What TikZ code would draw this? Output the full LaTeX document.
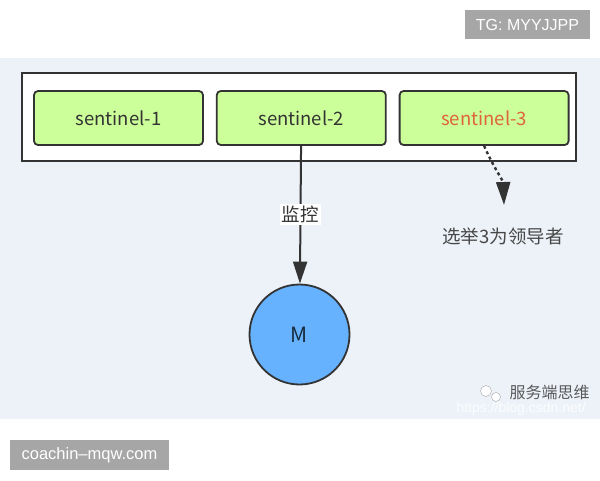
\documentclass[tikz,border=0pt]{standalone}
\usepackage{fontspec}
\setmainfont{Noto Sans CJK SC}
\newfontfamily\tagfont{Liberation Sans}
\usepackage{tikz}
\usetikzlibrary{positioning, shapes.geometric, arrows.meta}
\usepackage{xcolor}
\definecolor{panelbg}{HTML}{EDF2F9}
\definecolor{boxgreen}{HTML}{CCFF99}
\definecolor{edgegray}{HTML}{333333}
\definecolor{masterblue}{HTML}{66B2FF}
\definecolor{leaderred}{HTML}{E0643A}
\definecolor{taggray}{HTML}{A6A6A6}

\begin{document}
\begin{tikzpicture}[
		x=1pt, y=-1pt,
		font=\fontsize{18.5}{21}\selectfont,
		sentinel/.style={
			draw=edgegray,
			line width=1.8pt,
			rounded corners=4pt,
			fill=boxgreen,
			text=edgegray,
			minimum width=169pt,
			minimum height=54pt
		},
		frame/.style={
			draw=edgegray,
			line width=2pt,
			fill=white,
			minimum width=554pt,
			minimum height=88pt
		},
		master/.style={
			circle,
			draw=edgegray,
			line width=1.8pt,
			fill=masterblue,
			text=black!60!masterblue!60!black,
			font=\fontsize{21}{23}\selectfont,
			minimum size=100pt
		},
		tag/.style={
			fill=taggray,
			text=white,
			font=\tagfont\fontsize{16}{18}\selectfont,
			inner sep=0pt
		},
		link/.style={
			draw=edgegray,
			line width=2pt,
			-{Triangle[length=22pt, width=14pt]}
		}
		]
		
		% --- Canvas ---
		\useasboundingbox (0,0) rectangle (600,480);
		\fill[white] (0,0) rectangle (600,480);
		\fill[panelbg] (0,58) rectangle (600,419);
		
		% --- Sentinel group ---
		\node[frame] (group) at (299,117) {};
		\node[sentinel] (s1) at (118.5,118) {sentinel-1};
		\node[sentinel, right=12pt of s1] (s2) {sentinel-2};
		\node[sentinel, right=12pt of s2, text=leaderred] (s3) {sentinel-3};
		
		% --- Master ---
		\node[master] (m) at (299.5,334.5) {M};
		
		% --- Monitoring ---
		\draw[link] (s2) -- (m)
			node[midway, fill=white, inner sep=2pt, text=edgegray,
			font=\fontsize{18.5}{20}\selectfont] (watch) {监控};
		
		% --- Election ---
		\coordinate (tip) at (504,205);
		\draw[link, -{Triangle[length=23pt, width=14pt]},
			line width=2.4pt, dash pattern=on 3pt off 3pt]
			(s3.south) to[out=-66, in=92] (tip);
		\node[text=edgegray!90, font=\fontsize{18.5}{20}\selectfont] (leader) at (503,236) {选举3为领导者};
		
		% --- Watermarks ---
		\node[text=white, opacity=0.8, font=\tagfont\fontsize{14}{16}\selectfont,
			anchor=west] (url) at (453,409) {https://blog.csdn.net/};
		\node[circle, draw=gray!70, fill=white, minimum size=11pt, inner sep=0pt] (wx1) at (486,391) {};
		\node[circle, draw=gray!70, fill=white, minimum size=9pt, inner sep=0pt] (wx2) at (496,397) {};
		\node[text=black!65, font=\fontsize{16}{18}\selectfont, anchor=west] (brand) at (506,392) {服务端思维};
		
		% --- Tags ---
		\node[tag, minimum width=125pt, minimum height=29pt] (tg) at (527.5,24.5) {TG: MYYJJPP};
		\node[tag, minimum width=159pt, minimum height=30pt, font=\tagfont\fontsize{16.5}{18}\selectfont] (site) at (89.5,455) {coachin–mqw.com};
		
	\end{tikzpicture}
\end{document}
